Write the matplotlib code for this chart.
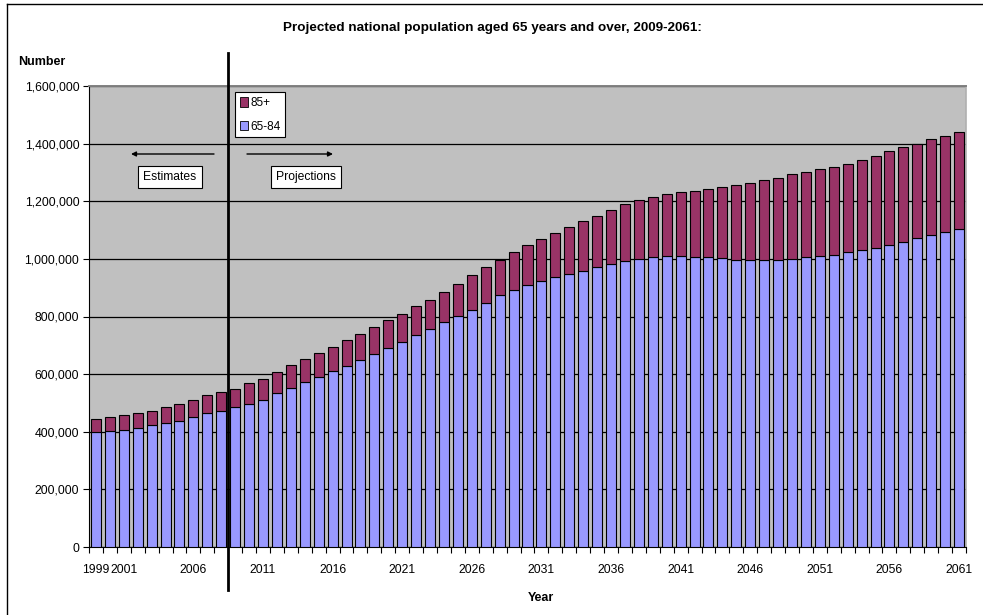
import numpy as np
import matplotlib.pyplot as plt
from matplotlib.patches import Patch
from matplotlib.lines import Line2D

plt.rcParams['font.family'] = ['Liberation Sans', 'DejaVu Sans']

years = list(range(1999, 2062))

# persons aged 65-84
age_65_84 = [
    400000, 403400, 406900, 413900, 421800, 431200, 438200, 449600, 465900, 472900,
    484300, 495800, 511100, 534000, 552700, 571100, 590900, 610400, 629100, 647500,
    670800, 690200, 712500, 736800, 757600, 780500, 801300, 823600, 847800, 874300,
    893000, 909000, 924300, 935700, 947200, 959000, 970400, 981900, 993700, 1000600,
    1005100, 1008600, 1009700, 1005100, 1006200, 1001700, 997100, 997100, 997100, 997100,
    1000600, 1005100, 1009700, 1014500, 1022500, 1029400, 1036400, 1046800, 1059700, 1071100,
    1082800, 1093000, 1104800,
]

# all persons aged 65 and over
total_65_plus = [
    445100, 449600, 457600, 465900, 472900, 484300, 497200, 511100, 527000, 538800,
    549300, 568700, 584000, 606900, 630200, 652000, 674500, 693700, 717000, 740200,
    763100, 786400, 808300, 836100, 858300, 884700, 912400, 943700, 970400, 997100,
    1024900, 1046800, 1070100, 1089500, 1111700, 1131200, 1149900, 1169400, 1189200, 1204100,
    1215900, 1223900, 1231900, 1235400, 1243700, 1248200, 1255100, 1263100, 1273500, 1281600,
    1293300, 1300200, 1313100, 1320100, 1330500, 1343000, 1358300, 1374200, 1389500, 1399900,
    1414800, 1427700, 1439200,
]

age_85_plus = [t - b for t, b in zip(total_65_plus, age_65_84)]

labelled_years = [1999, 2001] + list(range(2006, 2062, 5))
y_ticks = list(range(0, 1600001, 200000))

W, H = 983, 615
fig = plt.figure(figsize=(W / 100, H / 100), dpi=100)
fig.patch.set_facecolor('white')


def fx(px):
    return px / W


def fy(py):
    return 1 - py / H


ax = fig.add_axes([fx(89), fy(547), fx(966) - fx(89), fy(86) - fy(547)])
ax.set_facecolor('#C0C0C0')

x = np.arange(len(years))
ax.bar(x, age_65_84, width=0.72, color='#9999FF', edgecolor='black', linewidth=0.8, zorder=3)
ax.bar(x, age_85_plus, width=0.72, bottom=age_65_84, color='#993366',
       edgecolor='black', linewidth=0.8, zorder=3)

ax.set_xlim(-0.5, len(years) - 0.5)
ax.set_ylim(0, 1600000)
ax.set_yticks(y_ticks)
ax.set_yticklabels([f'{v:,}' for v in y_ticks])
ax.yaxis.grid(True, color='black', linewidth=0.9, zorder=1)
ax.set_axisbelow(True)

ax.set_xticks([years.index(y) for y in labelled_years])
ax.set_xticklabels([str(y) for y in labelled_years])
ax.set_xticks(np.arange(len(years) + 1) - 0.5, minor=True)
ax.tick_params(axis='x', which='major', length=0, pad=12, labelsize=8.7)
ax.tick_params(axis='x', which='minor', length=4, width=0.8, direction='out')
ax.tick_params(axis='y', length=4, width=0.8, direction='out', pad=3, labelsize=8.8)

ax.spines['top'].set_color('#808080')
ax.spines['top'].set_linewidth(1.4)
ax.spines['right'].set_color('#B0B0B0')
ax.spines['right'].set_linewidth(1.2)
ax.spines['left'].set_color('black')
ax.spines['bottom'].set_color('black')

# chart frame (top and left edges)
fig.add_artist(Line2D([fx(7), fx(7)], [fy(4), 0], color='black', linewidth=1.0))
fig.add_artist(Line2D([fx(7), 1], [fy(4), fy(4)], color='black', linewidth=1.0))

fig.text(fx(492), fy(28), 'Projected national population aged 65 years and over, 2009-2061:',
         ha='center', va='center', fontsize=9.7, fontweight='bold')
fig.text(fx(18), fy(62), 'Number', ha='left', va='center', fontsize=9, fontweight='bold')
fig.text(fx(541), fy(598), 'Year', ha='center', va='center', fontsize=9, fontweight='bold')

# divider between estimates and projections
fig.add_artist(Line2D([fx(228), fx(228)], [fy(53), fy(590)], color='black', linewidth=2.0))

arrow = dict(arrowstyle='-|>', color='black', lw=1.0, mutation_scale=7, shrinkA=0, shrinkB=0)
fig.add_artist(plt.Annotation('', xy=(fx(131), fy(154)), xytext=(fx(214), fy(154)),
                              xycoords='figure fraction', textcoords='figure fraction',
                              arrowprops=arrow))
fig.add_artist(plt.Annotation('', xy=(fx(333), fy(154)), xytext=(fx(247), fy(154)),
                              xycoords='figure fraction', textcoords='figure fraction',
                              arrowprops=arrow))

box = dict(boxstyle='square,pad=0.45', facecolor='white', edgecolor='black', linewidth=0.8)
fig.text(fx(170), fy(177), 'Estimates', ha='center', va='center', fontsize=8.7, bbox=box)
fig.text(fx(306), fy(177), 'Projections', ha='center', va='center', fontsize=8.7, bbox=box)

handles = [Patch(facecolor='#993366', edgecolor='black', linewidth=0.6, label='85+'),
           Patch(facecolor='#9999FF', edgecolor='black', linewidth=0.6, label='65-84')]
leg = fig.legend(handles=handles, loc='upper left', bbox_to_anchor=(fx(235), fy(92)),
                 fontsize=8.5, frameon=True, fancybox=False, edgecolor='black',
                 framealpha=1, handlelength=0.7, handleheight=0.9, handletextpad=0.2,
                 labelspacing=1.0, borderpad=0.4, borderaxespad=0)
leg.get_frame().set_linewidth(0.8)

fig.savefig('out.png', dpi=100)
